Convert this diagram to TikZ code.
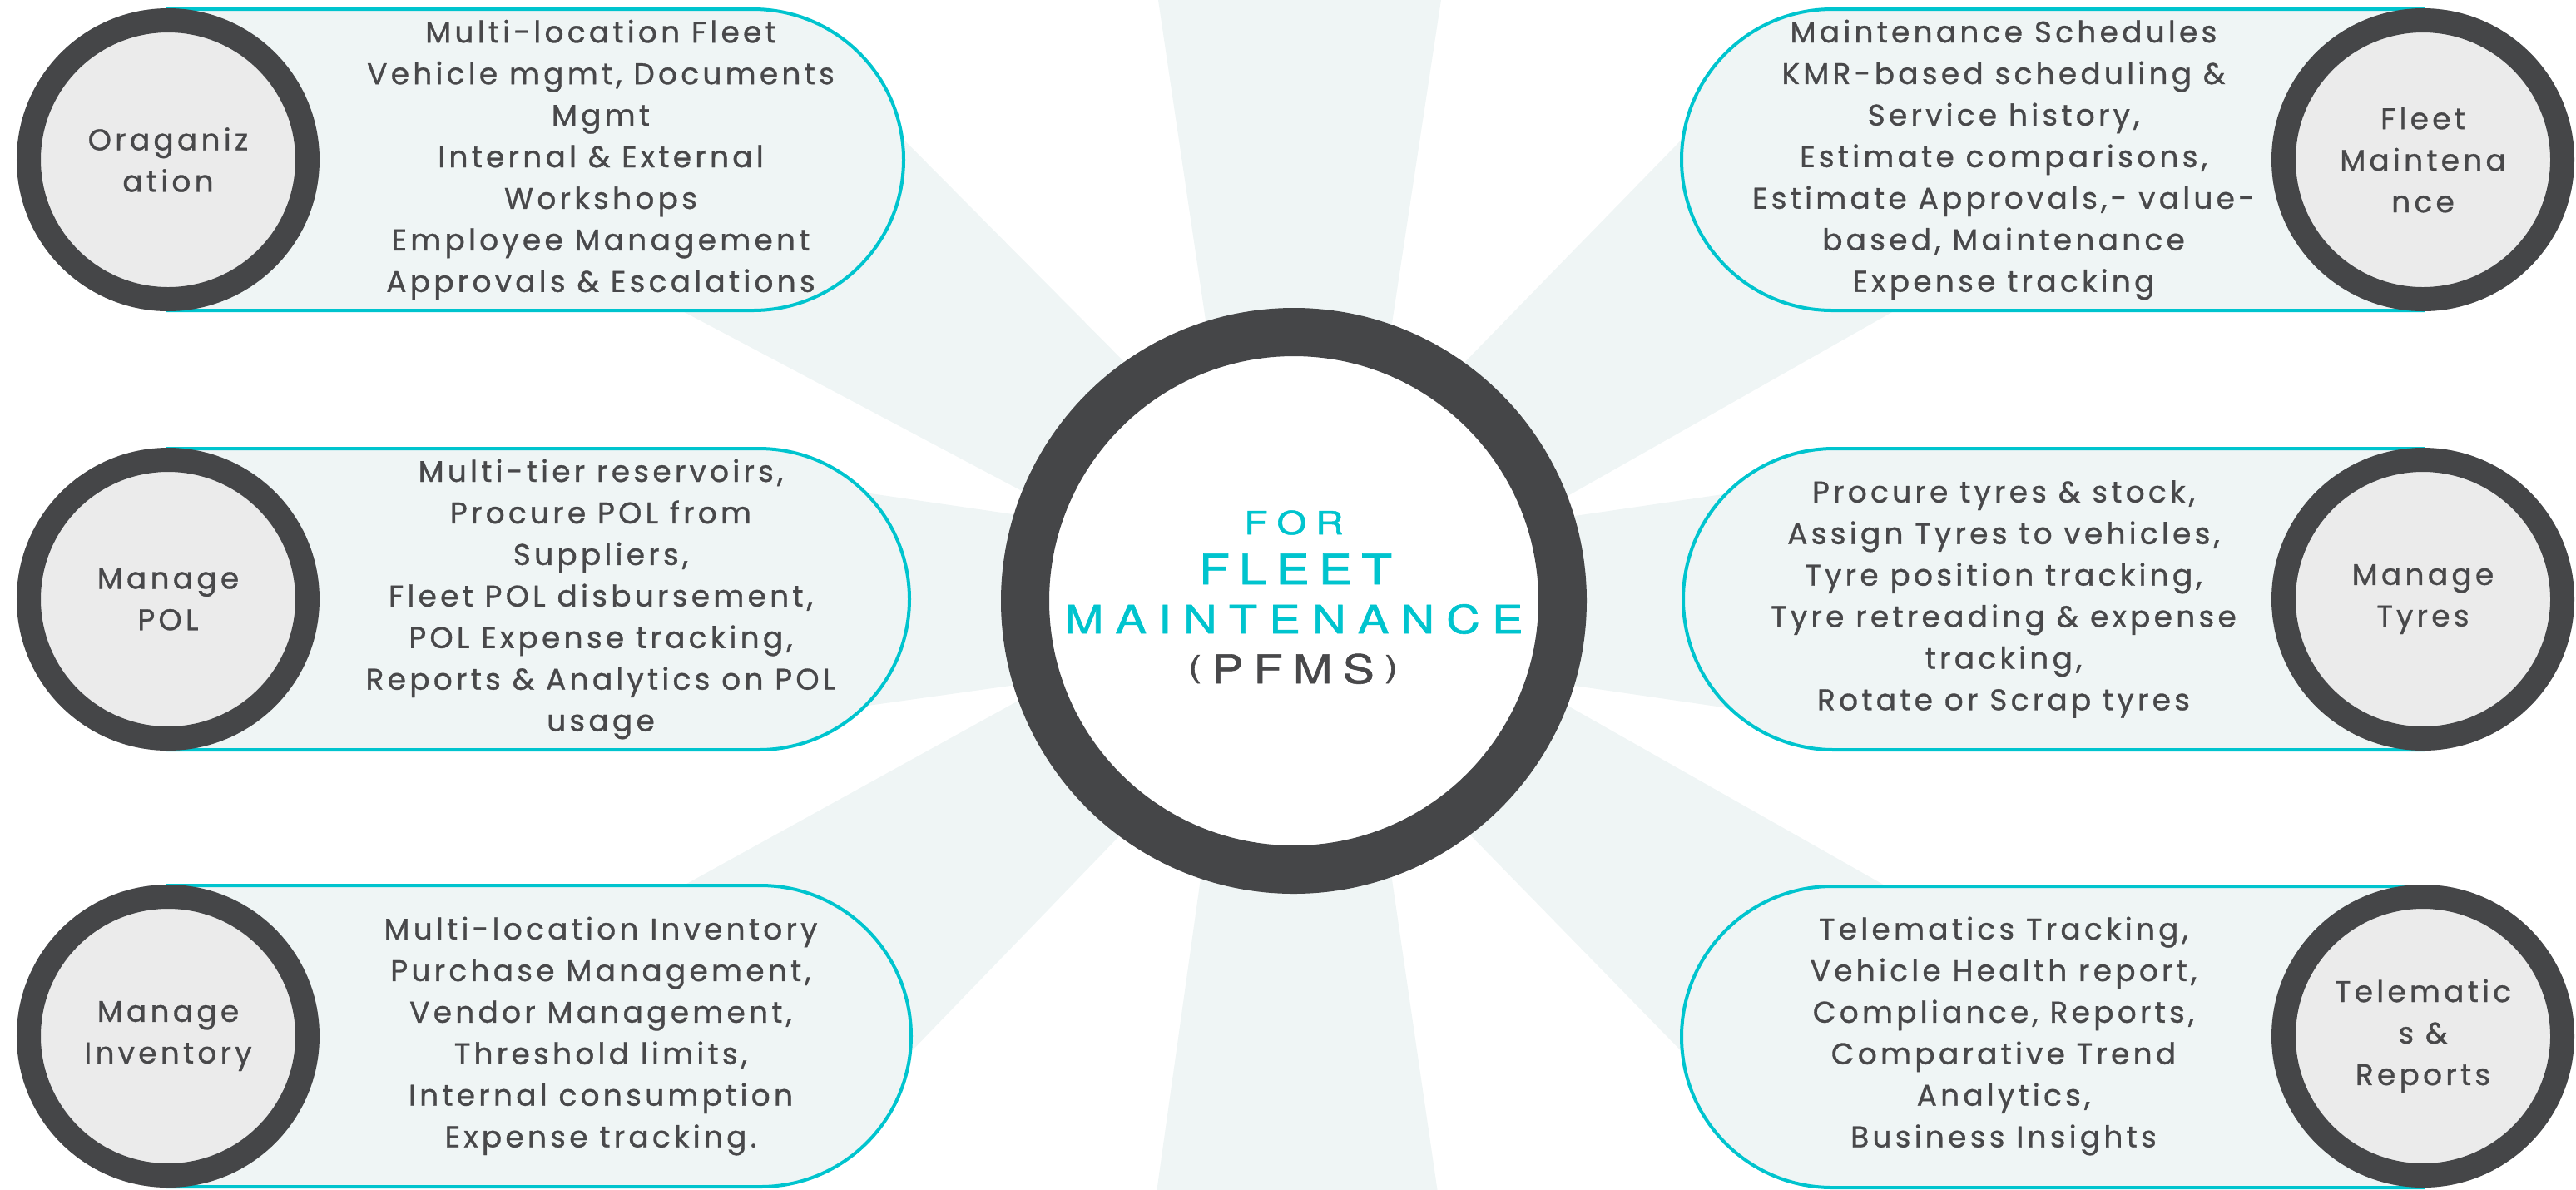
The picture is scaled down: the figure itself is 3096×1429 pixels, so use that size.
\documentclass[tikz,border=0pt]{standalone}
\usepackage{fontspec}
\usepackage{graphicx}
\newfontfamily\pillfont[LetterSpace=12,FakeBold=0.9]{Poppins}
\newfontfamily\hubfont[FakeBold=1.2]{TeX Gyre Heros}
\definecolor{raycol}{RGB}{239,245,245}
\definecolor{pillfill}{RGB}{239,245,245}
\definecolor{cyanline}{RGB}{0,196,206}
\definecolor{ringgray}{RGB}{69,70,72}
\definecolor{discfill}{RGB}{235,235,235}
\definecolor{txtgray}{RGB}{72,72,74}
\newlength\px \setlength\px{0.01cm}
\newcommand{\wl}[1]{\scalebox{1.2}[1]{#1}}
\newcommand{\lpar}{\raisebox{0.16em}{\scalebox{1}[0.76]{(}}}
\newcommand{\rpar}{\raisebox{0.16em}{\scalebox{1}[0.76]{)}}}
\tikzset{
  ray/.style={fill=raycol},
  pill/.style={fill=pillfill, draw=cyanline, line width=4\px},
  badge/.style={circle, fill=discfill, draw=ringgray, line width=29\px,
    minimum size=335\px, inner sep=0pt, text=txtgray, align=center,
    font=\pillfont\fontsize{10.2}{14.2}\selectfont},
  desc/.style={inner sep=0pt, text=txtgray, align=center,
    font=\pillfont\fontsize{10.2}{14.2}\selectfont},
  hub/.style={circle, fill=white, draw=ringgray, line width=58\px,
    minimum size=646\px, inner sep=0pt},
  hubtxt/.style={inner sep=0pt, anchor=base, text=cyanline}
}
\begin{document}
\begin{tikzpicture}[x=0.01cm, y=-0.01cm]
\useasboundingbox (0,0) rectangle (3096,1429);
\clip (0,0) rectangle (3096,1429);
% background rays
\fill[ray] (1390.5,-10) -- (1733.5,-10) -- (1653,520) -- (1469,520) -- cycle;
\fill[ray] (1462,920) -- (1653,920) -- (1729,1440) -- (1389,1440) -- cycle;
\fill[ray] (1019,100) -- (1400,484) -- (1300,628) -- (760,342) -- cycle;
\fill[ray] (950,579) -- (1300,630) -- (1300,812) -- (950,861) -- cycle;
\fill[ray] (760,1098) -- (1300,800) -- (1400,948) -- (1030,1331) -- cycle;
\fill[ray] (2090,97) -- (1710,487) -- (1810,638) -- (2350,332) -- cycle;
\fill[ray] (2160,581) -- (1810,632) -- (1810,812) -- (2160,863) -- cycle;
\fill[ray] (2090,1334) -- (1710,945) -- (1810,806) -- (2350,1112) -- cycle;
% pills, left
\draw[pill] (202,11) -- (905,11) arc[start angle=-90, end angle=90, radius=181] -- (202,373) -- cycle;
\draw[pill] (202,539) -- (912,539) arc[start angle=-90, end angle=90, radius=181] -- (202,901) -- cycle;
\draw[pill] (202,1064) -- (914,1064) arc[start angle=-90, end angle=90, radius=181] -- (202,1426) -- cycle;
% pills, right
\draw[pill] (2912,11) -- (2202,11) arc[start angle=-90, end angle=-270, radius=181] -- (2912,373) -- cycle;
\draw[pill] (2912,539) -- (2204,539) arc[start angle=-90, end angle=-270, radius=181] -- (2912,901) -- cycle;
\draw[pill] (2912,1065) -- (2202,1065) arc[start angle=-90, end angle=-270, radius=181] -- (2912,1427) -- cycle;
% hub
\node[hub] (hub) at (1555,722) {};
\node[hubtxt] (tfor) at (1555,642) {\hubfont\fontsize{10.9}{12}\selectfont\makebox[119\px][s]{\wl{F}\hfill\wl{O}\hfill\wl{R}}};
\node[hubtxt] (tfleet) at (1557,702) {\hubfont\fontsize{14.3}{15}\selectfont\makebox[232\px][s]{\wl{F}\hfill\wl{L}\hfill\wl{E}\hfill\wl{E}\hfill\wl{T}}};
\node[hubtxt] (tmaint) at (1555,761) {\hubfont\fontsize{13.3}{15}\selectfont\makebox[551\px][s]{\wl{M}\hfill\wl{A}\hfill\wl{I}\hfill\wl{N}\hfill\wl{T}\hfill\wl{E}\hfill\wl{N}\hfill\wl{A}\hfill\wl{N}\hfill\wl{C}\hfill\wl{E}}};
\node[hubtxt, text=txtgray] (tpfms) at (1554,821) {\hubfont\fontsize{13.5}{15}\selectfont\makebox[252\px][s]{\lpar\hfill\wl{P}\hfill\wl{F}\hfill\wl{M}\hfill\wl{S}\hfill\rpar}};
% badges
\node[badge] (b1) at (202,192) {Oraganiz\\ation};
\node[badge] (b2) at (202,720) {Manage\\POL};
\node[badge] (b3) at (202,1245) {Manage\\Inventory};
\node[badge] (b4) at (2912,192) {Fleet\\Maintena\\nce};
\node[badge] (b5) at (2912,720) {Manage\\Tyres};
\node[badge] (b6) at (2912,1245) {Telematic\\s \&\\Reports};
% descriptions
\node[desc] (d1) at (722,192) {Multi-location Fleet\\Vehicle mgmt, Documents\\Mgmt\\Internal \& External\\Workshops\\Employee Management\\Approvals \& Escalations};
\node[desc] (d2) at (722,720) {Multi-tier reservoirs,\\Procure POL from\\Suppliers,\\Fleet POL disbursement,\\POL Expense tracking,\\Reports \& Analytics on POL\\usage};
\node[desc] (d3) at (722,1245) {Multi-location Inventory\\Purchase Management,\\Vendor Management,\\Threshold limits,\\Internal consumption\\Expense tracking.};
\node[desc] (d4) at (2408,192) {Maintenance Schedules\\KMR-based scheduling \&\\Service history,\\Estimate comparisons,\\Estimate Approvals,- value-\\based, Maintenance\\Expense tracking};
\node[desc] (d5) at (2408,720) {Procure tyres \& stock,\\Assign Tyres to vehicles,\\Tyre position tracking,\\Tyre retreading \& expense\\tracking,\\Rotate or Scrap tyres};
\node[desc] (d6) at (2408,1245) {Telematics Tracking,\\Vehicle Health report,\\Compliance, Reports,\\Comparative Trend\\Analytics,\\Business Insights};
\end{tikzpicture}
\end{document}
